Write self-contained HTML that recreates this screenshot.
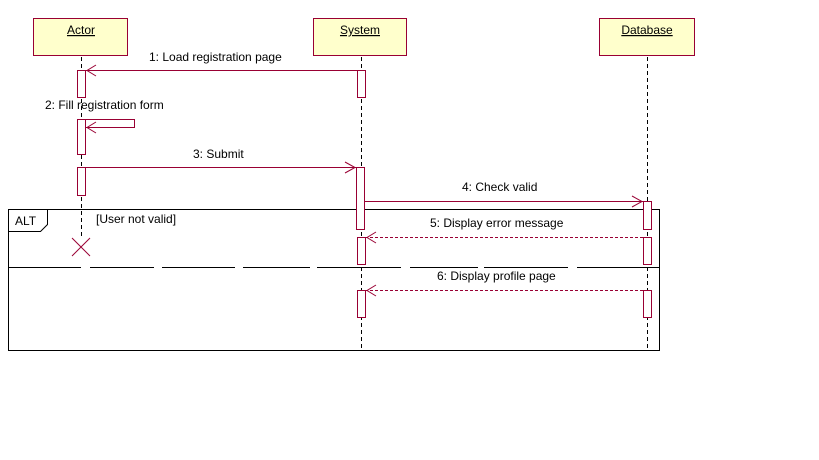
<!DOCTYPE html>
<html><head><style>body{margin:0;background:#fff}svg{display:block}</style></head><body>
<svg width="819" height="460" xmlns="http://www.w3.org/2000/svg" font-family="Liberation Sans, sans-serif" font-size="12">
<rect width="819" height="460" fill="#fff"/>
<g fill="#ffffcc" stroke="#990033" stroke-width="1">
<rect x="33.5" y="18.5" width="94" height="37"/>
<rect x="313.5" y="18.5" width="93" height="37"/>
<rect x="599.5" y="18.5" width="95" height="37"/>
</g>
<g text-anchor="middle" fill="#000" text-decoration="underline">
<text x="81" y="34">Actor</text>
<text x="360" y="34">System</text>
<text x="647" y="34">Database</text>
</g>
<g stroke="#000" stroke-dasharray="4,3">
<line x1="81.5" y1="57" x2="81.5" y2="238"/>
<line x1="361.5" y1="57" x2="361.5" y2="350"/>
<line x1="647.5" y1="57" x2="647.5" y2="350"/>
</g>
<!-- ALT frame -->
<g stroke="#000" fill="none">
<rect x="8.5" y="209.5" width="651" height="141"/>
<path d="M8.5 231.5 H40.5 L47.5 224.5 V209.5"/>
<path d="M8 267.5 H81 M90 267.5 H154 M162 267.5 H235 M243 267.5 H310 M317 267.5 H401 M410 267.5 H478 M484 267.5 H568 M577 267.5 H660"/>
</g>
<text x="15" y="225" fill="#000">ALT</text>
<text x="96" y="223" fill="#000">[User not valid]</text>
<!-- activations -->
<g fill="#fff" stroke="#990033">
<rect x="77.5" y="70.5" width="8" height="27"/>
<rect x="77.5" y="119.5" width="8" height="35"/>
<rect x="77.5" y="167.5" width="8" height="28"/>
<rect x="357.5" y="70.5" width="8" height="27"/>
<rect x="356.5" y="167.5" width="8" height="62"/>
<rect x="357.5" y="237.5" width="8" height="27"/>
<rect x="357.5" y="290.5" width="8" height="27"/>
<rect x="643.5" y="201.5" width="8" height="28"/>
<rect x="643.5" y="237.5" width="8" height="27"/>
<rect x="643.5" y="290.5" width="8" height="27"/>
</g>
<!-- messages -->
<g stroke="#990033" fill="none">
<line x1="357" y1="70.5" x2="86" y2="70.5"/>
<path d="M96 65 L87 70.5 L96 76"/>
<path d="M85 119.5 H134.5 V127.5 H86"/>
<path d="M96 122 L87 127.5 L96 133"/>
<line x1="86" y1="167.5" x2="356" y2="167.5"/>
<path d="M345 162 L355 167.5 L345 173"/>
<line x1="365" y1="201.5" x2="643" y2="201.5"/>
<path d="M632 196 L642 201.5 L632 207"/>
<line x1="643" y1="237.5" x2="366" y2="237.5" stroke-dasharray="3,2"/>
<path d="M376 232 L367 237.5 L376 243"/>
<line x1="643" y1="290.5" x2="366" y2="290.5" stroke-dasharray="3,2"/>
<path d="M376 285 L367 290.5 L376 296"/>
<path d="M72 238 L90 256 M90 238 L72 256"/>
</g>
<g fill="#000">
<text x="149" y="61">1: Load registration page</text>
<text x="45" y="109">2: Fill registration form</text>
<text x="193" y="158">3: Submit</text>
<text x="462" y="191">4: Check valid</text>
<text x="430" y="227">5: Display error message</text>
<text x="437" y="280">6: Display profile page</text>
</g>
</svg>
</body></html>
